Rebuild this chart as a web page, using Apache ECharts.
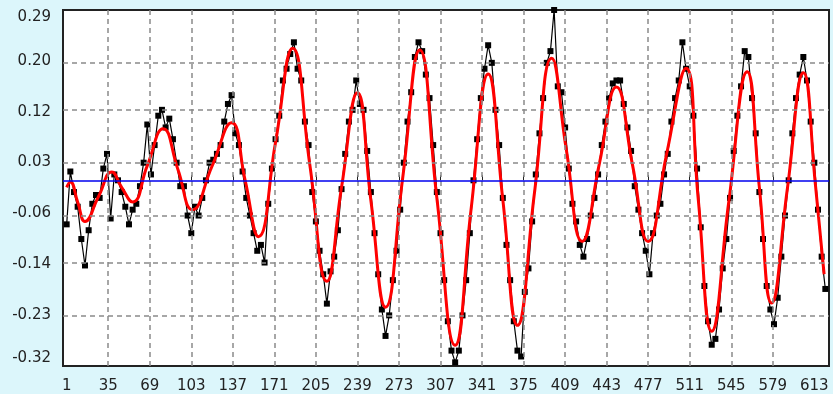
<!DOCTYPE html>
<html lang="en">

<head>
  <meta charset="UTF-8">
  <title>chart</title>
  <style>
    html, body { margin: 0; padding: 0; background: #dcf6fb; }
    #main { width: 833px; height: 394px; }
  </style>
</head>

<body>
  <div id="main"></div>
  <script src="https://cdn.jsdelivr.net/npm/echarts@6/dist/echarts.min.js"></script>
  <script>
    // x labels / y labels
    var xTicks = [1, 35, 69, 103, 137, 171, 205, 239, 273, 307, 341, 375, 409, 443, 477, 511, 545, 579, 613];
    var yTicks = [-0.3162, -0.2296, -0.143, -0.0564, 0.0302, 0.1168, 0.2034, 0.29];

    // measured points, one every 3 samples starting at 1
    var dataStart = 1;
    var dataStep = 3;
    var measured = [
      -0.075, 0.015, -0.02, -0.045, -0.10, -0.145, -0.085, -0.04, -0.025, -0.03,
      0.02, 0.045, -0.065, 0.01, 0.0, -0.02, -0.045, -0.075, -0.05, -0.04,
      -0.01, 0.03, 0.095, 0.01, 0.06, 0.11, 0.12, 0.09, 0.105, 0.07,
      0.03, -0.01, -0.01, -0.06, -0.09, -0.045, -0.06, -0.03, 0.0, 0.03,
      0.035, 0.045, 0.06, 0.10, 0.13, 0.145, 0.08, 0.06, 0.015, -0.03,
      -0.06, -0.09, -0.12, -0.11, -0.14, -0.04, 0.02, 0.07, 0.11, 0.17,
      0.19, 0.215, 0.235, 0.19, 0.17, 0.10, 0.06, -0.02, -0.07, -0.12,
      -0.16, -0.21, -0.155, -0.13, -0.085, -0.015, 0.045, 0.10, 0.12, 0.17,
      0.13, 0.12, 0.05, -0.02, -0.09, -0.16, -0.22, -0.265, -0.23, -0.17,
      -0.12, -0.05, 0.03, 0.10, 0.15, 0.21, 0.235, 0.22, 0.18, 0.14,
      0.06, -0.02, -0.09, -0.17, -0.24, -0.29, -0.31, -0.29, -0.23, -0.17,
      -0.09, 0.0, 0.07, 0.14, 0.19, 0.23, 0.20, 0.12, 0.06, -0.03,
      -0.11, -0.17, -0.24, -0.29, -0.30, -0.19, -0.15, -0.07, 0.01, 0.08,
      0.14, 0.20, 0.22, 0.29, 0.16, 0.15, 0.09, 0.02, -0.04, -0.07,
      -0.11, -0.13, -0.10, -0.06, -0.03, 0.01, 0.06, 0.10, 0.14, 0.165,
      0.17, 0.17, 0.13, 0.09, 0.05, -0.01, -0.05, -0.09, -0.12, -0.16,
      -0.09, -0.06, -0.04, 0.01, 0.045, 0.10, 0.14, 0.17, 0.235, 0.19,
      0.16, 0.11, 0.02, -0.08, -0.18, -0.24, -0.28, -0.27, -0.22, -0.15,
      -0.10, -0.03, 0.05, 0.11, 0.16, 0.22, 0.21, 0.14, 0.08, -0.02,
      -0.10, -0.18, -0.22, -0.245, -0.20, -0.13, -0.06, 0.0, 0.08, 0.14,
      0.18, 0.21, 0.17, 0.10, 0.03, -0.05, -0.13, -0.185
    ];

    // fitted curve (red)
    var fitX = [1, 4, 10, 16, 27, 38, 46, 55, 67, 80, 92, 104, 120, 136, 147, 158, 172, 186, 200, 214,
      226, 239, 250, 262, 276, 290, 304, 319, 332, 346, 358, 370, 384, 398, 410, 423, 437, 451, 464, 477,
      492, 508, 518, 529, 543, 558, 568, 578, 591, 604, 614, 621];
    var fitY = [-0.012, -0.003, -0.037, -0.07, -0.028, 0.014, -0.012, -0.037, 0.025, 0.088, 0.019, -0.05, 0.024, 0.098, 0.001, -0.096, 0.065, 0.225, 0.027, -0.172,
      -0.012, 0.149, -0.034, -0.216, 0.003, 0.222, -0.03, -0.281, -0.05, 0.181, -0.033, -0.247, -0.02, 0.208, 0.052, -0.104, 0.028, 0.159, 0.028, -0.104,
      0.044, 0.191, -0.033, -0.257, -0.036, 0.185, -0.012, -0.209, -0.013, 0.183, -0.01, -0.16];

    var baseLine = 0;

    var measuredData = [];
    for (var i = 0; i < measured.length; i++) {
      measuredData.push([dataStart + i * dataStep, measured[i]]);
    }
    var fitData = [];
    for (var j = 0; j < fitX.length; j++) {
      fitData.push([fitX[j], fitY[j]]);
    }

    var gridX = xTicks.slice(1, xTicks.length - 1);
    var gridY = yTicks.slice(1, yTicks.length - 1);
    var gridLines = [];
    gridX.forEach(function (v) { gridLines.push({ xAxis: v }); });
    gridY.forEach(function (v) { gridLines.push({ yAxis: v }); });

    var chart = echarts.init(document.getElementById('main'));
    var option = {
      backgroundColor: '#dcf6fb',
      animation: false,
      grid: {
        left: 63,
        top: 10,
        right: 4,
        bottom: 26,
        show: true,
        backgroundColor: '#fff',
        borderColor: '#222',
        borderWidth: 2
      },
      xAxis: {
        type: 'value',
        min: -2,
        max: 625,
        axisLine: { show: false },
        splitLine: { show: false },
        axisTick: {
          show: true,
          inside: true,
          length: 5,
          customValues: gridX,
          lineStyle: { color: '#222', width: 1 }
        },
        axisLabel: {
          customValues: xTicks,
          margin: 13,
          color: '#222',
          fontFamily: 'DejaVu Sans',
          fontSize: 15
        }
      },
      yAxis: {
        type: 'value',
        min: yTicks[0],
        max: yTicks[yTicks.length - 1],
        axisLine: { show: false },
        axisTick: { show: false },
        splitLine: { show: false },
        axisLabel: {
          customValues: yTicks,
          margin: 12,
          color: '#222',
          fontFamily: 'DejaVu Sans',
          fontSize: 15,
          verticalAlignMinLabel: 'bottom',
          verticalAlignMaxLabel: 'top',
          formatter: function (v) { return v.toFixed(2); }
        }
      },
      series: [
        {
          // dashed grid
          type: 'line',
          data: [],
          silent: true,
          markLine: {
            silent: true,
            symbol: 'none',
            label: { show: false },
            lineStyle: { color: '#8a8a8a', type: [5, 4], width: 1.5 },
            data: gridLines
          }
        },
        {
          // zero line
          type: 'line',
          data: [],
          silent: true,
          markLine: {
            silent: true,
            symbol: 'none',
            label: { show: false },
            lineStyle: { color: '#0000ee', type: 'solid', width: 1.5 },
            data: [{ yAxis: baseLine }]
          }
        },
        {
          name: 'measured',
          type: 'line',
          data: measuredData,
          symbol: 'rect',
          symbolSize: 6,
          itemStyle: { color: '#000' },
          lineStyle: { color: '#000', width: 1.2 },
          z: 3
        },
        {
          name: 'fit',
          type: 'line',
          data: fitData,
          smooth: 0.5,
          showSymbol: false,
          lineStyle: { color: '#ff0000', width: 3 },
          z: 4
        }
      ]
    };
    chart.setOption(option);
  </script>
</body>

</html>
